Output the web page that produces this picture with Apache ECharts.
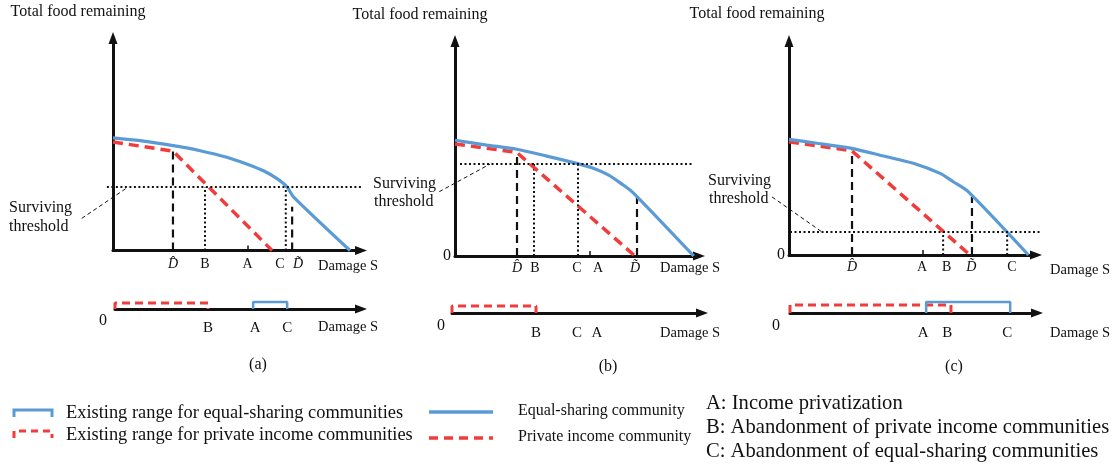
<!DOCTYPE html>
<html><head><meta charset="utf-8">
<script src="https://cdn.jsdelivr.net/npm/echarts@6/dist/echarts.min.js"></script>
<style>html,body{margin:0;padding:0;background:#fff}#c{width:1117px;height:465px}</style>
</head><body><div id="c"></div>
<script>
// ================= DATA (schematic units) =================
const hatD = 'D\u0302';
const tildeD = 'D\u0303';

// ---- Panel (a) ----
const aEqualX = [0, 10.6, 23.7, 34.3, 44.8, 52.6, 59.2, 64.4, 68.4, 71.0, 93.3];
const aEqualY = [51.6, 50.3, 48.0, 45.7, 42.7, 39.6, 36.5, 33.0, 29.2, 24.6, 0];
const aPrivX = [0, 23.6, 62.6];
const aPrivY = [49.7, 45.5, 0];
const aThreshold = 29.1;
const aThresholdSpan = [-2.4, 98];
const aDashedX = [23.6, 70.5];
const aDashedTop = [45.5, 20];
const aDottedX = [36.2, 68];
const aTickValues = [23.6, 36.2, 53, 65.7, 72.8];
const aTickLabels = [hatD, 'B', 'A', 'C', tildeD];
const aTickMark = [53];
const aLeaderX = [-12.3, 6];
const aLeaderY = [14.7, 29.1];
const aRangePrivate = [0, 36.9];
const aRangeEqual = [54.8, 68.3];
const aLowValues = [0, 36.9, 55.6, 68.3];
const aLowLabels = ['0', 'B', 'A', 'C'];

// ---- Panel (b) ----
const bEqualX = [0, 12.7, 24.7, 36.7, 48.7, 55.3, 61.3, 67.3, 71.3, 95.5];
const bEqualY = [52.4, 50.2, 48.3, 45.2, 41.9, 39.7, 36.7, 32.1, 28.6, 0];
const bPrivX = [0, 24.7, 72];
const bPrivY = [50.7, 46.9, 0];
const bThreshold = 41.6;
const bThresholdSpan = [2, 95.2];
const bDashedX = [24.8, 72.8];
const bDashedTop = [46.9, 27];
const bDottedX = [31.6, 49.2];
const bTickValues = [24.8, 32, 48.8, 57.2, 72];
const bTickLabels = [hatD, 'B', 'C', 'A', tildeD];
const bTickMark = [54];
const bLeaderX = [-6.3, 14];
const bLeaderY = [29.1, 41.6];
const bRangePrivate = [0, 32.8];
const bRangeEqual = [];
const bLowValues = [0, 32.8, 48.8, 56.6];
const bLowLabels = ['0', 'B', 'C', 'A'];

// ---- Panel (c) ----
const cEqualX = [0, 11.0, 24.8, 37.3, 49.1, 59.7, 64.9, 70.8, 94.6];
const cEqualY = [52.6, 50.8, 48.5, 45.0, 41.7, 37.1, 33.3, 28.8, 0];
const cPrivX = [0, 24.8, 71.5];
const cPrivY = [51.5, 47.4, 0];
const cThreshold = 10.5;
const cThresholdSpan = [0.4, 99.8];
const cDashedX = [24.9, 72.3];
const cDashedTop = [47.4, 26.4];
const cDottedX = [60.9, 86.2];
const cTickValues = [24.9, 52.6, 62.3, 72.0, 88.1];
const cTickLabels = [hatD, 'A', 'B', tildeD, 'C'];
const cTickMark = [53];
const cLeaderX = [-6.7, 13];
const cLeaderY = [26.4, 10.5];
const cRangePrivate = [0, 63.6];
const cRangeEqual = [53.8, 87];
const cLowValues = [0, 52.6, 62.1, 85.8];
const cLowLabels = ['0', 'A', 'B', 'C'];

// ================= STYLE / LAYOUT =================
const FONT = 'Liberation Serif';
const BLUE = '#5B9BD5';
const RED = '#F23B3B';
const INK = '#111';
const XMAX = 97.6, YMAX = 97.3, OV_MIN = -15, OV_MAX = 100;

const topPanels = [
  { eqX: aEqualX, eqY: aEqualY, prX: aPrivX, prY: aPrivY, thr: aThreshold, thrSpan: aThresholdSpan,
    dashX: aDashedX, dashTop: aDashedTop, dotX: aDottedX, tv: aTickValues, tl: aTickLabels, tm: aTickMark,
    ldX: aLeaderX, ldY: aLeaderY, zero: false,
    grid: { left: 113, top: 38, width: 248, height: 212.5 }, lm: 7, nameGap: 17, namePad: 8 },
  { eqX: bEqualX, eqY: bEqualY, prX: bPrivX, prY: bPrivY, thr: bThreshold, thrSpan: bThresholdSpan,
    dashX: bDashedX, dashTop: bDashedTop, dotX: bDottedX, tv: bTickValues, tl: bTickLabels, tm: bTickMark,
    ldX: bLeaderX, ldY: bLeaderY, zero: true,
    grid: { left: 455, top: 41, width: 244, height: 215 }, lm: 5, nameGap: 21, namePad: 5 },
  { eqX: cEqualX, eqY: cEqualY, prX: cPrivX, prY: cPrivY, thr: cThreshold, thrSpan: cThresholdSpan,
    dashX: cDashedX, dashTop: cDashedTop, dotX: cDottedX, tv: cTickValues, tl: cTickLabels, tm: cTickMark,
    ldX: cLeaderX, ldY: cLeaderY, zero: true,
    grid: { left: 789, top: 41, width: 247, height: 214 }, lm: 5, nameGap: 74, namePad: 8 }
];
const lowPanels = [
  { priv: aRangePrivate, eq: aRangeEqual, hp: 3, he: 3.5, lv: aLowValues, ll: aLowLabels,
    grid: { left: 115, top: 289, width: 246, height: 20 }, zeroShift: 12, lm: 4, nameGap: 17, namePad: 11 },
  { priv: bRangePrivate, eq: bRangeEqual, hp: 3.5, he: 3.5, lv: bLowValues, ll: bLowLabels,
    grid: { left: 452, top: 293, width: 250, height: 20 }, zeroShift: 11, lm: 5, nameGap: 18, namePad: 13 },
  { priv: cRangePrivate, eq: cRangeEqual, hp: 4, he: 5.5, lv: cLowValues, ll: cLowLabels,
    grid: { left: 790, top: 293, width: 247, height: 20 }, zeroShift: 14, lm: 5, nameGap: 73, namePad: 13 }
];

const grids = [], xAxes = [], yAxes = [], series = [];

function axisLine(arrow) {
  return { show: true, onZero: false, symbol: arrow ? ['none', 'triangle'] : 'none', symbolSize: [9, 12],
           lineStyle: { color: INK, width: 3 } };
}
function ser(i, data, lineStyle, extra) {
  return Object.assign({ type: 'line', xAxisIndex: i, yAxisIndex: i, data: data, symbol: 'none',
    showSymbol: false, silent: true, animation: false, lineStyle: lineStyle }, extra || {});
}
const pairs = (xs, ys) => xs.map((x, k) => [x, ys[k]]);

topPanels.forEach((p, i) => {
  grids.push(Object.assign({ containLabel: false, outerBoundsMode: 'none' }, p.grid));
  xAxes.push({
    type: 'value', gridIndex: i, min: 0, max: XMAX, splitLine: { show: false },
    axisLine: axisLine(true),
    axisTick: { show: true, customValues: p.tm, inside: true, length: 5, lineStyle: { color: INK, width: 1.5 } },
    axisLabel: { show: true, customValues: p.tv, margin: p.lm, color: INK, fontFamily: FONT, fontSize: 14,
      formatter: v => { const t = p.tl[p.tv.indexOf(v)] || ''; return (t === hatD || t === tildeD) ? '{i|' + t + '}' : t; },
      rich: { i: { fontStyle: 'italic', fontFamily: FONT, fontSize: 14, color: INK } } },
    name: 'Damage S', nameLocation: 'end', nameGap: p.nameGap,
    nameTextStyle: { fontFamily: FONT, fontSize: 14.5, color: INK, align: 'right', verticalAlign: 'top', padding: [p.namePad, 0, 0, 0] }
  });
  yAxes.push({
    type: 'value', gridIndex: i, min: 0, max: YMAX, splitLine: { show: false },
    axisLine: axisLine(true), axisTick: { show: false },
    axisLabel: { show: p.zero, customValues: [0], formatter: () => '0', margin: 4, color: INK, fontFamily: FONT, fontSize: 16 }
  });
  p.dashX.forEach((x, k) => series.push(ser(i, [[x, 0], [x, p.dashTop[k]]], { color: INK, width: 2.2, type: [8, 5] })));
  p.dotX.forEach(x => series.push(ser(i, [[x, 0], [x, p.thr]], { color: INK, width: 2, type: [2, 2.5] })));
  series.push(ser(i, pairs(p.prX, p.prY), { color: RED, width: 3.5, type: [10, 6] }, { name: 'Private income community' }));
  series.push(ser(i, pairs(p.eqX, p.eqY), { color: BLUE, width: 3.2 }, { name: 'Equal-sharing community', smooth: 0.25 }));
});

lowPanels.forEach((p, j) => {
  const i = 3 + j;
  grids.push(Object.assign({ containLabel: false, outerBoundsMode: 'none' }, p.grid));
  xAxes.push({
    type: 'value', gridIndex: i, min: 0, max: XMAX, splitLine: { show: false },
    axisLine: axisLine(true), axisTick: { show: false },
    axisLabel: { show: true, customValues: p.lv, margin: p.lm, color: INK, fontFamily: FONT, fontSize: 15,
      formatter: v => { const t = p.ll[p.lv.indexOf(v)] || ''; return t === '0' ? '{z|0}' : '{l|' + t + '}'; },
      rich: { z: { fontFamily: FONT, fontSize: 16, color: INK, padding: [0, p.zeroShift * 2, 0, 0] },
              l: { fontFamily: FONT, fontSize: 15, color: INK, padding: [8, 0, 0, 0] } } },
    name: 'Damage S', nameLocation: 'end', nameGap: p.nameGap,
    nameTextStyle: { fontFamily: FONT, fontSize: 14.5, color: INK, align: 'right', verticalAlign: 'top', padding: [p.namePad, 0, 0, 0] }
  });
  yAxes.push({ type: 'value', gridIndex: i, min: 0, max: 10, show: false });
  if (p.priv.length) {
    const [a, b] = p.priv;
    series.push(ser(i, [[a, 0], [a, p.hp], [b, p.hp], [b, 0]], { color: RED, width: 3, type: [8, 5] }));
  }
  if (p.eq.length) {
    const [a, b] = p.eq;
    series.push(ser(i, [[a, 0], [a, p.he], [b, p.he], [b, 0]], { color: BLUE, width: 2.5 }));
  }
});

// overlay grids (same scale as the top panels, wider x range) for threshold lines and their leaders
topPanels.forEach((p, j) => {
  const i = 6 + j;
  const k = p.grid.width / XMAX;
  grids.push({ containLabel: false, outerBoundsMode: 'none', left: p.grid.left + OV_MIN * k,
               width: (OV_MAX - OV_MIN) * k, top: p.grid.top, height: p.grid.height });
  xAxes.push({ type: 'value', gridIndex: i, min: OV_MIN, max: OV_MAX, show: false });
  yAxes.push({ type: 'value', gridIndex: i, min: 0, max: YMAX, show: false });
  series.push(ser(i, [[p.thrSpan[0], p.thr], [p.thrSpan[1], p.thr]], { color: INK, width: 2, type: [2, 2.5] }));
  series.push(ser(i, pairs(p.ldX, p.ldY), { color: INK, width: 1, type: [4, 3] }));
});

// ================= TEXT & LEGEND =================
function txt(text, x, y, size, align) {
  return { type: 'text', silent: true, style: { text: text, x: x, y: y, fill: INK,
    font: size + 'px "' + FONT + '"', align: align || 'left', verticalAlign: 'middle' } };
}
const graphic = [
  txt('Total food remaining', 78, 12, 16, 'center'),
  txt('Total food remaining', 420, 15, 16, 'center'),
  txt('Total food remaining', 757, 14, 16, 'center'),
  txt('Surviving', 9, 208, 16), txt('threshold', 9, 227, 16),
  txt('Surviving', 373, 184, 16), txt('threshold', 374, 202, 16),
  txt('Surviving', 708, 181, 16), txt('threshold', 709, 199, 16),
  txt('(a)', 258, 365, 16, 'center'), txt('(b)', 608, 367, 16, 'center'), txt('(c)', 954, 367, 16, 'center'),
  { type: 'polyline', silent: true, shape: { points: [[14, 417], [14, 410], [52, 410], [52, 417]] },
    style: { stroke: BLUE, lineWidth: 3, fill: null } },
  { type: 'polyline', silent: true, shape: { points: [[14, 438], [14, 431], [52, 431], [52, 438]] },
    style: { stroke: RED, lineWidth: 3, fill: null, lineDash: [7, 5] } },
  txt('Existing range for equal-sharing communities', 66, 413, 18.4),
  txt('Existing range for private income communities', 66, 435, 18.4),
  { type: 'line', silent: true, shape: { x1: 429, y1: 412, x2: 493, y2: 412 }, style: { stroke: BLUE, lineWidth: 3.5 } },
  { type: 'line', silent: true, shape: { x1: 429, y1: 438, x2: 493, y2: 438 }, style: { stroke: RED, lineWidth: 3.5, lineDash: [9, 6] } },
  txt('Equal-sharing community', 518, 411, 16),
  txt('Private income community', 518, 437, 16),
  txt('A: Income privatization', 706, 404, 20.6),
  txt('B: Abandonment of private income communities', 706, 428, 20.6),
  txt('C: Abandonment of equal-sharing communities', 706, 452, 20.6)
];

const chart = echarts.init(document.getElementById('c'), null, { renderer: 'canvas' });
chart.setOption({
  animation: false,
  backgroundColor: '#fff',
  grid: grids, xAxis: xAxes, yAxis: yAxes, series: series, graphic: graphic
});
</script></body></html>
